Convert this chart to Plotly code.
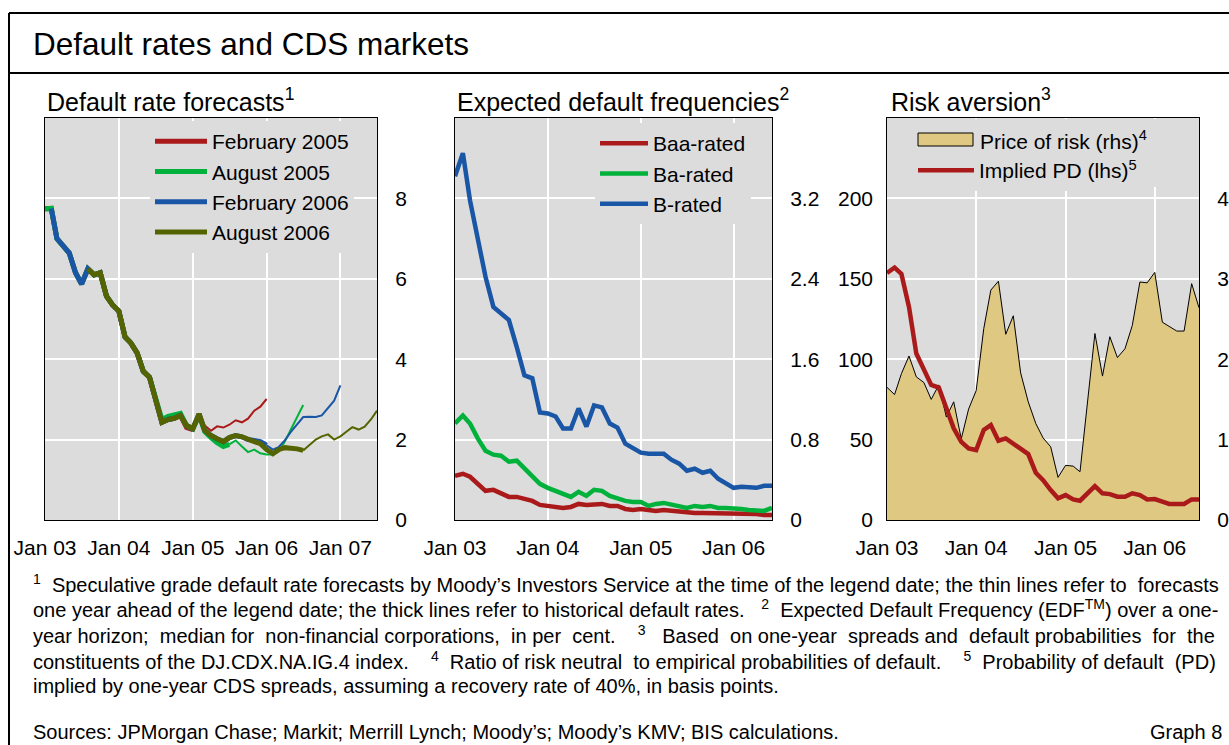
import pandas as pd
import plotly.graph_objects as go

# ---------------------------------------------------------------- data
# Monthly observation dates (Jan 2003 onwards)
months = pd.date_range("2003-01-01", periods=55, freq="MS")

# Panel 1: speculative-grade default rates, history (thick) and 12-month forecast (thin)
# index 0 = Jan 2003
feb05_hist = [7.74, 7.75, 7.0, 6.82, 6.64, 6.15, 5.87, 6.25, 6.1, 6.15, 5.57, 5.35, 5.2, 4.55,
              4.4, 4.15, 3.7, 3.55, 3.0, 2.43, 2.5, 2.53, 2.6, 2.3, 2.25]                 # Jan03-Jan05
feb05_fcst = [2.25, 2.5, 2.35, 2.22, 2.33, 2.3, 2.37, 2.48, 2.43, 2.52, 2.72, 2.82, 3.01]   # Jan05-Jan06
aug05_hist = [7.74, 7.75, 7.0, 6.82, 6.64, 6.15, 5.87, 6.25, 6.1, 6.15, 5.57, 5.35, 5.2, 4.55,
              4.4, 4.15, 3.7, 3.55, 3.0, 2.5, 2.58, 2.6, 2.65, 2.35, 2.27, 2.6, 2.2, 2.05,
              1.92, 1.83, 1.88]                                                              # Jan03-Jul05
aug05_fcst = [1.88, 1.98, 1.83, 1.69, 1.75, 1.66, 1.63, 1.63, 1.7, 1.95, 2.25, 2.55, 2.86]  # Jul05-Jul06
feb06_hist = [7.75, 7.0, 6.82, 6.64, 6.15, 5.87, 6.25, 6.1, 6.15, 5.57, 5.35, 5.2, 4.55,
              4.4, 4.15, 3.7, 3.55, 3.0, 2.43, 2.5, 2.53, 2.6, 2.35, 2.27, 2.64, 2.23, 2.1,
              2.02, 1.95, 2.05, 2.1, 2.07, 2.0, 1.98, 1.95, 1.86]                            # Feb03-Jan06
feb06_fcst = [1.86, 1.75, 1.81, 1.98, 2.19, 2.39, 2.56, 2.57, 2.56, 2.6, 2.78, 2.97, 3.35]  # Jan06-Jan07
aug06_hist = [6.25, 6.1, 6.15, 5.57, 5.35, 5.2, 4.55, 4.4, 4.15, 3.7, 3.55, 3.0, 2.43, 2.5,
              2.53, 2.6, 2.35, 2.27, 2.64, 2.23, 2.1, 2.02, 1.95, 2.05, 2.1, 2.07, 2.0, 1.95,
              1.9, 1.75, 1.65, 1.75, 1.8, 1.8, 1.77, 1.73]                                   # Aug03-Jul06
aug06_fcst = [1.73, 1.87, 2.0, 2.08, 2.13, 2.0, 2.08, 2.2, 2.31, 2.25, 2.32, 2.5, 2.72]     # Jul06-Jul07

# Panel 2: expected default frequencies, per cent (Jan03-Jun06)
edf_baa = [0.44, 0.46, 0.43, 0.36, 0.29, 0.30, 0.27, 0.23, 0.23, 0.21, 0.19, 0.15, 0.14, 0.13,
           0.12, 0.13, 0.16, 0.15, 0.16, 0.16, 0.14, 0.14, 0.11, 0.10, 0.11, 0.10, 0.09, 0.10,
           0.09, 0.08, 0.07, 0.07, 0.07, 0.07, 0.07, 0.06, 0.06, 0.06, 0.06, 0.06, 0.05, 0.05]
edf_ba = [0.96, 1.04, 0.96, 0.81, 0.69, 0.65, 0.64, 0.58, 0.59, 0.51, 0.44, 0.36, 0.32, 0.29,
          0.26, 0.23, 0.28, 0.24, 0.30, 0.29, 0.24, 0.21, 0.19, 0.18, 0.18, 0.14, 0.16, 0.17,
          0.15, 0.13, 0.12, 0.14, 0.13, 0.14, 0.12, 0.12, 0.12, 0.11, 0.10, 0.09, 0.09, 0.12]
edf_b = [3.42, 3.65, 3.18, 2.81, 2.42, 2.12, 2.05, 1.99, 1.72, 1.44, 1.41, 1.07, 1.06, 1.03,
         0.91, 0.91, 1.11, 0.93, 1.14, 1.12, 0.96, 0.92, 0.76, 0.71, 0.67, 0.66, 0.66, 0.66,
         0.6, 0.56, 0.49, 0.51, 0.47, 0.49, 0.41, 0.37, 0.32, 0.33, 0.33, 0.32, 0.34, 0.34]

# Panel 3: risk aversion (Jan03-Jul06)
price_of_risk = [1.65, 1.56, 1.82, 2.04, 1.78, 1.71, 1.50, 1.68, 1.28, 1.47, 1.01, 1.38, 1.61,
                 2.38, 2.86, 2.97, 2.31, 2.54, 1.83, 1.47, 1.20, 1.02, 0.91, 0.53, 0.68, 0.67,
                 0.60, 1.46, 2.32, 1.79, 2.28, 2.02, 2.13, 2.42, 2.96, 2.95, 3.08, 2.46, 2.41,
                 2.35, 2.35, 2.94, 2.64]
implied_pd = [153.6, 157, 153, 132.5, 103.5, 93, 84, 82.4, 69.4, 57, 48.6, 44.5, 43.5, 56, 59,
              49.3, 50.7, 47.6, 43.9, 41, 29.4, 24.8, 18.6, 13.5, 15.5, 12.8, 12, 16.6, 21, 16.6,
              16.1, 14.5, 14.5, 16.6, 15.5, 12.8, 13, 11.4, 10, 10, 10, 12.8, 12.8]

year_ticks = ["2003-01-01", "2004-01-01", "2005-01-01", "2006-01-01", "2007-01-01"]

# ---------------------------------------------------------------- style
W, H = 1229, 745
FONT = "Arial, Liberation Sans, Helvetica, sans-serif"
PLOT_BG = "#dcdcdc"
RED, GREEN, BLUE, OLIVE = "#aa1a1a", "#00b23c", "#1a56a6", "#556400"
TAN = "#dfc882"


def px_x(x):
    return x / W


def px_y(y):
    return 1 - y / H


fig = go.Figure()

# ---------------------------------------------------------------- panel 1
vintages = [
    ("February 2005", RED, 0, feb05_hist, 24, feb05_fcst),
    ("August 2005", GREEN, 0, aug05_hist, 30, aug05_fcst),
    ("February 2006", BLUE, 1, feb06_hist, 36, feb06_fcst),
    ("August 2006", OLIVE, 7, aug06_hist, 42, aug06_fcst),
]
for name, col, h0, hist, f0, fcst in vintages:
    fig.add_trace(go.Scatter(
        x=months[f0:f0 + len(fcst)], y=fcst, mode="lines", line=dict(color=col, width=2),
        xaxis="x", yaxis="y", showlegend=False, legendgroup=name, hoverinfo="skip"))
for name, col, h0, hist, f0, fcst in vintages:
    fig.add_trace(go.Scatter(
        x=months[h0:h0 + len(hist)], y=hist, mode="lines", name=name,
        line=dict(color=col, width=5), xaxis="x", yaxis="y",
        legend="legend", legendgroup=name))

# ---------------------------------------------------------------- panel 2
for name, col, vals in [("Baa-rated", RED, edf_baa), ("Ba-rated", GREEN, edf_ba),
                        ("B-rated", BLUE, edf_b)]:
    fig.add_trace(go.Scatter(
        x=months[:len(vals)], y=vals, mode="lines", name=name, legendgroup=name,
        line=dict(color=col, width=4.5), xaxis="x2", yaxis="y2", legend="legend2"))

# ---------------------------------------------------------------- panel 3
POR_LABEL = "Price of risk (rhs)<sup>4</sup>"
fig.add_trace(go.Scatter(
    x=months[:len(price_of_risk)], y=price_of_risk, mode="lines", fill="tozeroy",
    fillcolor=TAN, line=dict(color="#000000", width=1), showlegend=False,
    name=POR_LABEL, xaxis="x3", yaxis="y3"))
fig.add_trace(go.Scatter(
    x=months[:len(implied_pd)], y=implied_pd, mode="lines", legendgroup="pd",
    line=dict(color=RED, width=4.5),
    name="Implied PD (lhs)<sup>5</sup>", xaxis="x3", yaxis="y4", legend="legend3"))

# ---------------------------------------------------------------- axes
tick_font = dict(family=FONT, size=21, color="#000000")
frame = dict(showline=True, linecolor="#000000", linewidth=1, mirror=True, zeroline=False,
             automargin=False)


def xaxis(left, right, x_end):
    return dict(domain=[px_x(left), px_x(right)], type="date",
                range=["2003-01-01", x_end], tickvals=year_ticks, tickformat="Jan %y",
                showgrid=True, gridcolor="#ffffff", gridwidth=2, ticks="",
                ticklabelstandoff=9, tickfont=tick_font, **frame)


ydom = [px_y(520), px_y(118)]


def yaxis(anchor, rng, vals, labels, side, grid=True, overlay=None):
    d = dict(domain=ydom, anchor=anchor, range=rng, tickvals=vals, ticktext=labels,
             side=side, showgrid=grid, gridcolor="#ffffff", gridwidth=2, ticks="",
             ticklabelstandoff=13, tickfont=tick_font, **frame)
    if overlay:
        d["overlaying"] = overlay
        d["showline"] = False
    return d


fig.update_layout(
    xaxis=xaxis(45, 377, "2007-07-01"),
    xaxis2=xaxis(455, 772, "2006-06-01"),
    xaxis3=xaxis(887, 1199, "2006-07-01"),
    yaxis=yaxis("x", [0, 10], [0, 2, 4, 6, 8], ["0", "2", "4", "6", "8"], "right"),
    yaxis2=yaxis("x2", [0, 4], [0, 0.8, 1.6, 2.4, 3.2], ["0", "0.8", "1.6", "2.4", "3.2"], "right"),
    yaxis3=yaxis("x3", [0, 5], [0, 1, 2, 3, 4], ["0", "1", "2", "3", "4"], "right"),
    yaxis4=yaxis("x3", [0, 250], [0, 50, 100, 150, 200], ["0", "50", "100", "150", "200"],
                 "left", grid=False, overlay="y3"),
)

# ---------------------------------------------------------------- legends
leg_font = dict(family=FONT, size=21, color="#000000")


def legend(x, y, itemwidth):
    return dict(x=px_x(x), y=px_y(y), xanchor="left", yanchor="top", xref="paper", yref="paper",
                bgcolor=PLOT_BG, borderwidth=0, font=leg_font, itemwidth=itemwidth,
                tracegroupgap=0, traceorder="normal")


fig.update_layout(
    legend=legend(150, 121, 52),
    legend2=legend(595, 123, 48),
    legend3=legend(913, 150, 56),
)

# ---------------------------------------------------------------- frame and text
shapes = [
    dict(type="line", xref="paper", yref="paper", x0=px_x(9), x1=1, y0=px_y(13), y1=px_y(13),
         line=dict(color="#000000", width=2)),
    dict(type="line", xref="paper", yref="paper", x0=px_x(9), x1=1, y0=px_y(73), y1=px_y(73),
         line=dict(color="#000000", width=2)),
    dict(type="line", xref="paper", yref="paper", x0=px_x(9), x1=px_x(9), y0=0, y1=px_y(13),
         line=dict(color="#000000", width=2)),
    # legend backdrop of the risk-aversion panel (hides gridlines behind the key)
    dict(type="rect", xref="paper", yref="paper", layer="above",
         x0=px_x(905), x1=px_x(1198), y0=px_y(187), y1=px_y(119),
         fillcolor=PLOT_BG, line=dict(width=0)),
    # key swatch for the shaded price-of-risk area
    dict(type="rect", xref="paper", yref="paper", layer="above",
         x0=px_x(918), x1=px_x(973), y0=px_y(146), y1=px_y(133),
         fillcolor=TAN, line=dict(color="#000000", width=1)),
]

annotations = []


def text(x, y, s, size, anchor="left"):
    annotations.append(dict(x=px_x(x), y=px_y(y), xref="paper", yref="paper", text=s,
                            showarrow=False, xanchor=anchor, yanchor="middle", align=anchor,
                            font=dict(family=FONT, size=size, color="#000000")))


def justify(line, extra):
    """Spread `extra` additional spaces evenly over the word gaps of a line."""
    words = line.split(" ")
    gaps = len(words) - 1
    out = words[0]
    for i, w in enumerate(words[1:]):
        pad = (i + 1) * extra // gaps - i * extra // gaps
        out += " " + "\u00a0" * pad + w
    return out


text(31, 44, "Default rates and CDS markets", 31.5)
text(45, 100, "Default rate forecasts<sup>1</sup>", 25)
text(455, 100, "Expected default frequencies<sup>2</sup>", 25)
text(889, 100, "Risk aversion<sup>3</sup>", 25)
text(978, 140, POR_LABEL, 21)

notes = [
    "<sup>1</sup>  Speculative grade default rate forecasts by Moody’s Investors Service at the time "
    "of the legend date; the thin lines refer to forecasts",
    "one year ahead of the legend date; the thick lines refer to historical default rates.   "
    "<sup>2</sup>  Expected Default Frequency (EDF<sup>TM</sup>) over a one-",
    "year horizon; median for non-financial corporations, in per cent.   <sup>3</sup>  Based on "
    "one-year spreads and default probabilities for the",
    "constituents of the DJ.CDX.NA.IG.4 index.   <sup>4</sup>  Ratio of risk neutral to empirical "
    "probabilities of default.   <sup>5</sup>  Probability of default (PD)",
    "implied by one-year CDS spreads, assuming a recovery rate of 40%, in basis points.",
]
note_pad = [1, 0, 11, 4, 0]
for i, line in enumerate(notes):
    text(31, 583 + i * 25.7, justify(line, note_pad[i]), 20)
text(31, 732, "Sources: JPMorgan Chase; Markit; Merrill Lynch; Moody’s; Moody’s KMV; BIS calculations.", 20)
text(1224, 732, "Graph 8", 20, anchor="right")

fig.update_layout(
    width=W, height=H, margin=dict(l=0, r=0, t=0, b=0, pad=0, autoexpand=False),
    paper_bgcolor="#ffffff", plot_bgcolor=PLOT_BG,
    font=dict(family=FONT, color="#000000"),
    shapes=shapes, annotations=annotations,
)

fig.write_html("out.html")
